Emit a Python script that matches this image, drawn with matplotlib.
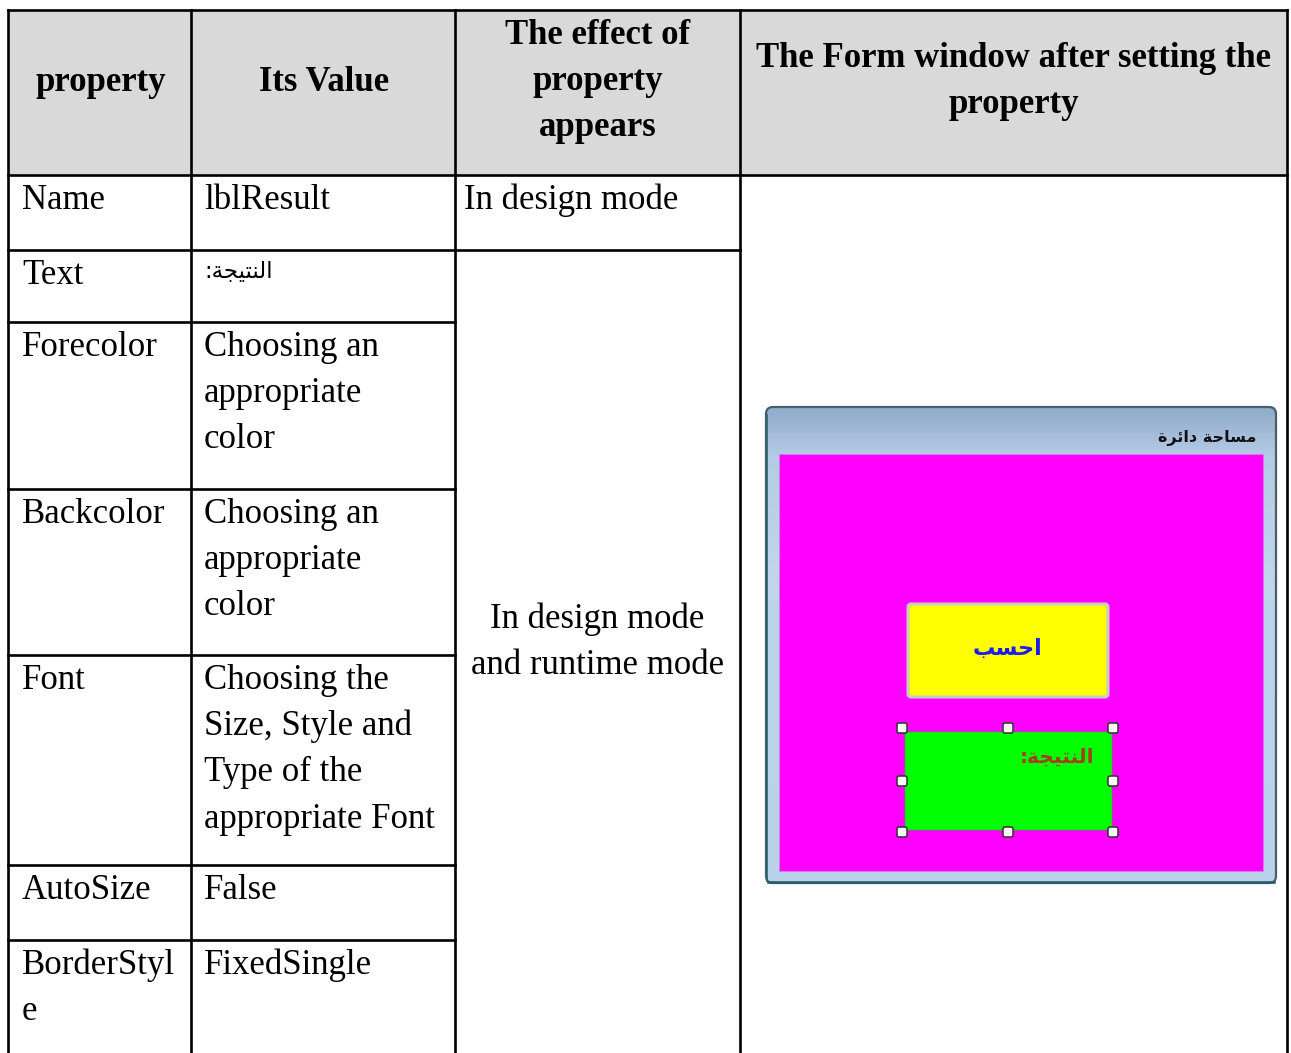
import numpy as np
import matplotlib
matplotlib.use("Agg")
import matplotlib.pyplot as plt
from matplotlib.patches import Rectangle, FancyBboxPatch
from matplotlib.colors import LinearSegmentedColormap

# ---------------- data ----------------
headers = ["property", "Its Value", "The effect of\nproperty\nappears",
           "The Form window after setting the\nproperty"]
properties = ["Name", "Text", "Forecolor", "Backcolor", "Font", "AutoSize", "BorderStyl\ne"]
values = ["lblResult", "النتيجة:", "Choosing an\nappropriate\ncolor",
          "Choosing an\nappropriate\ncolor",
          "Choosing the\nSize, Style and\nType of the\nappropriate Font",
          "False", "FixedSingle"]
effects = ["In design mode", "In design mode\nand runtime mode"]
form_title = "مساحة دائرة"
button_text = "احسب"
label_text = "النتيجة:"

# ---------------- layout (pixels) ----------------
W, H = 1291, 1053
col_x = [8, 191, 455, 740, 1287]
top_y = 10
head_bot = 175
row_tops = [175, 250, 322, 489, 655, 865, 940]
LS = 46.2          # line spacing
FS = 25            # body font size (pt)
SERIF = ["Liberation Serif", "DejaVu Serif"]
ARAB = ["DejaVu Sans"]

# ---- minimal Arabic shaping (presentation forms, visual order) ----
FORMS = {
    'ا': (0xFE8D, 0xFE8E, None, None), 'ل': (0xFEDD, 0xFEDE, 0xFEDF, 0xFEE0),
    'ن': (0xFEE5, 0xFEE6, 0xFEE7, 0xFEE8), 'ت': (0xFE95, 0xFE96, 0xFE97, 0xFE98),
    'ي': (0xFEF1, 0xFEF2, 0xFEF3, 0xFEF4), 'ج': (0xFE9D, 0xFE9E, 0xFE9F, 0xFEA0),
    'ة': (0xFE93, 0xFE94, None, None), 'ح': (0xFEA1, 0xFEA2, 0xFEA3, 0xFEA4),
    'س': (0xFEB1, 0xFEB2, 0xFEB3, 0xFEB4), 'ب': (0xFE8F, 0xFE90, 0xFE91, 0xFE92),
    'م': (0xFEE1, 0xFEE2, 0xFEE3, 0xFEE4), 'د': (0xFEA9, 0xFEAA, None, None),
    'ئ': (0xFE89, 0xFE8A, 0xFE8B, 0xFE8C), 'ر': (0xFEAD, 0xFEAE, None, None),
}

def shape(s):
    out = []
    n = len(s)
    for i, ch in enumerate(s):
        if ch not in FORMS:
            out.append(ch)
            continue
        prev = s[i - 1] if i > 0 else None
        nxt = s[i + 1] if i < n - 1 else None
        join_prev = prev in FORMS and FORMS[prev][2] is not None
        join_next = nxt in FORMS and FORMS[ch][2] is not None
        iso, fin, ini, med = FORMS[ch]
        if join_prev and join_next:
            cp = med
        elif join_prev:
            cp = fin
        elif join_next:
            cp = ini
        else:
            cp = iso
        out.append(chr(cp))
    return "".join(out[::-1])

fig = plt.figure(figsize=(W / 100, H / 100), dpi=100)
ax = fig.add_axes([0, 0, 1, 1])
ax.set_xlim(0, W)
ax.set_ylim(H, 0)
ax.axis("off")

# header background
ax.add_patch(Rectangle((col_x[0], top_y), col_x[-1] - col_x[0], head_bot - top_y,
                       facecolor="#d9d9d9", edgecolor="none", zorder=0))

LW = 1.9
kw = dict(color="black", lw=LW, solid_capstyle="projecting", zorder=5)
# outer top + header bottom
ax.plot([col_x[0], col_x[-1]], [top_y, top_y], **kw)
ax.plot([col_x[0], col_x[-1]], [head_bot, head_bot], **kw)
# vertical lines
for x in col_x:
    ax.plot([x, x], [top_y, H + 5], **kw)
# row lines in first two columns
for y in row_tops[1:]:
    ax.plot([col_x[0], col_x[2]], [y, y], **kw)
# line under first effect cell
ax.plot([col_x[2], col_x[3]], [row_tops[1], row_tops[1]], **kw)

# header texts
head_centers = [(col_x[i] + col_x[i + 1]) / 2 for i in range(4)]
head_first_base = [91, 91, 44, 67]
for i, h in enumerate(headers):
    for j, line in enumerate(h.split("\n")):
        ax.text(head_centers[i] + (1 if i < 2 else 0), head_first_base[i] + j * LS, line,
                ha="center", va="baseline", fontsize=FS, fontweight="bold",
                family=SERIF, zorder=6)

PAD = 13
BASE = 34


def cell_text(x, ytop, txt, arabic=False):
    if arabic:
        ax.text(x, ytop + 21, shape(txt), ha="left", va="center", fontsize=16.5,
                family=ARAB, zorder=6)
        return
    for j, line in enumerate(txt.split("\n")):
        ax.text(x, ytop + BASE + j * LS, line, ha="left", va="baseline",
                fontsize=FS, family=SERIF, zorder=6)


for r, (p, v) in enumerate(zip(properties, values)):
    cell_text(col_x[0] + PAD + 1, row_tops[r], p)
    cell_text(col_x[1] + PAD, row_tops[r], v, arabic=(r == 1))

# effects
cell_text(col_x[2] + 9, row_tops[0], effects[0])
for j, line in enumerate(effects[1].split("\n")):
    ax.text(head_centers[2], 628 + j * LS, line, ha="center", va="baseline",
            fontsize=FS, family=SERIF, zorder=6)

# ---------------- form window picture ----------------
fx0, fy0, fx1, fy1 = 766, 407, 1276, 883
frame = FancyBboxPatch((fx0, fy0), fx1 - fx0, fy1 - fy0,
                       boxstyle="round,pad=0,rounding_size=7",
                       facecolor="none", edgecolor="#4a5e68", lw=1.6, zorder=3)
ax.add_patch(frame)
grad_cmap = LinearSegmentedColormap.from_list(
    "frame", [(0.0, "#90aac9"), (0.10, "#b4cbe5"), (0.40, "#c3d8ee"),
              (0.41, "#bcd3eb"), (1.0, "#b9d2eb")])
grad = np.linspace(0, 1, 256).reshape(-1, 1)
im = ax.imshow(grad, cmap=grad_cmap, aspect="auto", extent=(fx0, fx1, fy1, fy0),
               origin="upper", zorder=2)
clip = FancyBboxPatch((fx0, fy0), fx1 - fx0, fy1 - fy0,
                      boxstyle="round,pad=0,rounding_size=7",
                      facecolor="none", edgecolor="none", transform=ax.transData)
im.set_clip_path(clip)
# dark teal bottom/left edge
ax.plot([fx0 + 2, fx1 - 2], [fy1 - 1, fy1 - 1], color="#1d5d6a", lw=1.8, zorder=4)
ax.plot([fx0 + 1, fx0 + 1], [fy0 + 8, fy1 - 2], color="#2b6470", lw=1.2, zorder=4)

# client area
ax.add_patch(Rectangle((779, 454), 1263 - 779, 871 - 454, facecolor="#ff00ff",
                       edgecolor="#d27fe0", lw=0.6, zorder=4))
ax.text(1256, 438, shape(form_title), ha="right", va="center", fontsize=11.5,
        fontweight="bold", family=ARAB, color="#111111", zorder=6)

# button
ax.add_patch(FancyBboxPatch((908, 604), 200, 93, boxstyle="round,pad=0,rounding_size=3",
                            facecolor="#ffff00", edgecolor="#c8c8c8", lw=2.2, zorder=5))
ax.text(1008, 649, shape(button_text), ha="center", va="center", fontsize=16,
        fontweight="bold", family=ARAB, color="#1c1cf0", zorder=6)

# label
lx0, ly0, lx1, ly1 = 904, 731, 1112, 830
ax.add_patch(Rectangle((lx0, ly0), lx1 - lx0, ly1 - ly0, facecolor="#00ff00",
                       edgecolor="#b040b0", lw=1.0, zorder=5))
ax.text(1094, 757, shape(label_text), ha="right", va="center", fontsize=14.5,
        fontweight="bold", family=ARAB, color="#a83c1c", zorder=6)
hx = [902, 1008, 1113]
hy = [728, 781, 832]
for xx in hx:
    for yy in hy:
        if xx == 1008 and yy == 781:
            continue
        ax.add_patch(FancyBboxPatch((xx - 5, yy - 5), 10, 10,
                                    boxstyle="round,pad=0,rounding_size=2",
                                    facecolor="white", edgecolor="#303030", lw=1.1,
                                    zorder=7))

ax.set_xlim(0, W)
ax.set_ylim(H, 0)
fig.savefig("out.png", dpi=100, facecolor="white")
